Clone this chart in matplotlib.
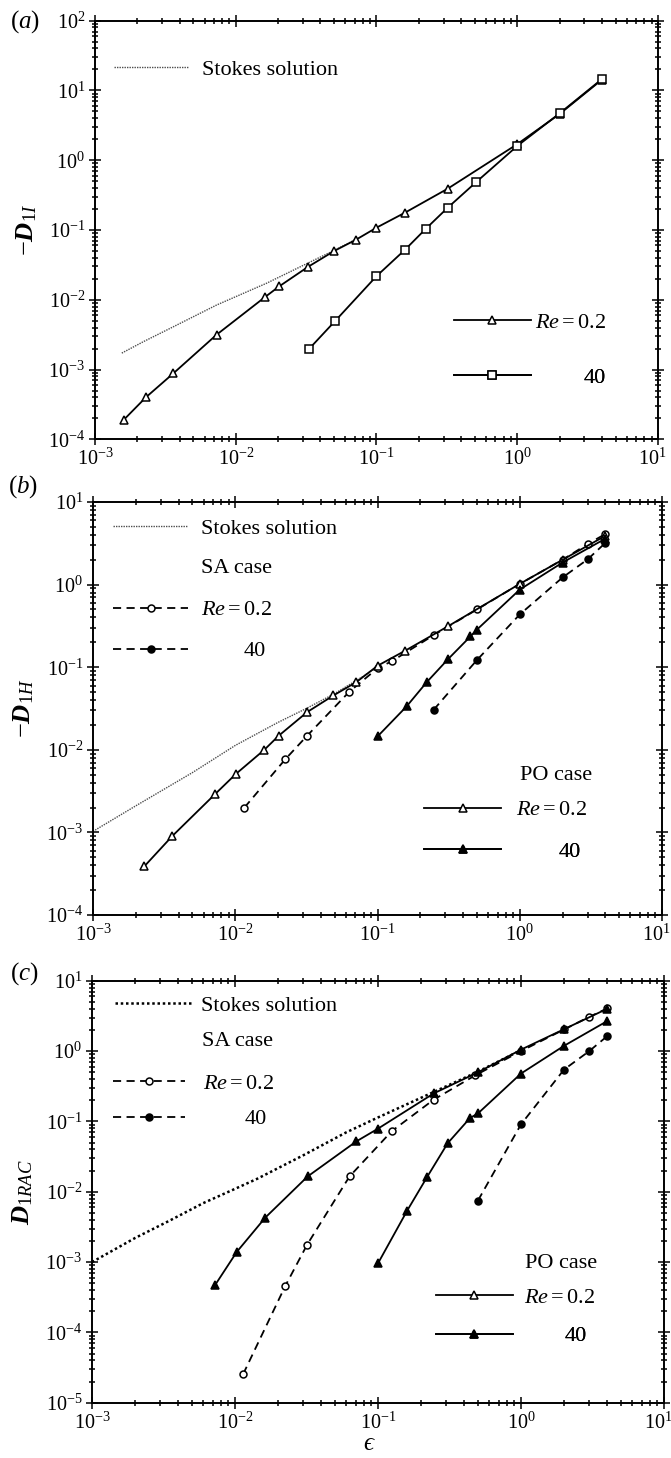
import numpy as np
import matplotlib
matplotlib.use("Agg")
import matplotlib.pyplot as plt
import matplotlib.transforms as mtransforms
from matplotlib.lines import Line2D
from matplotlib.ticker import LogLocator, NullFormatter

plt.rcParams['font.family'] = 'Liberation Serif'
plt.rcParams['mathtext.fontset'] = 'custom'
plt.rcParams['mathtext.rm'] = 'Liberation Serif'
plt.rcParams['mathtext.it'] = 'Liberation Serif:italic'
plt.rcParams['mathtext.bf'] = 'Liberation Serif:bold'
plt.rcParams['mathtext.bfit'] = 'Liberation Serif:bold:italic'

# (a) -D_1I
eps_a_stokes = [0.00155, 0.0022, 0.0036, 0.0073, 0.0166, 0.032, 0.05, 0.07]
d1i_stokes = [1.72e-3, 2.5e-3, 4.1e-3, 8.4e-3, 0.0173, 0.0330, 0.051, 0.072]
eps_a_re02 = [0.0016, 0.0023, 0.0036, 0.0073, 0.0162, 0.0203, 0.0325, 0.05, 0.071, 0.1, 0.16, 0.32, 1.0, 2.0, 4.0]
d1i_re02 = [1.9e-4, 4.0e-4, 8.8e-4, 3.15e-3, 0.011, 0.0155, 0.0295, 0.050, 0.072, 0.108, 0.178, 0.39, 1.7, 4.6, 14.3]
eps_a_re40 = [0.033, 0.051, 0.1, 0.16, 0.225, 0.32, 0.51, 1.0, 2.0, 4.0]
d1i_re40 = [1.95e-3, 5.0e-3, 0.0218, 0.0525, 0.105, 0.208, 0.485, 1.6, 4.7, 14.6]

# (b) -D_1H
eps_b_stokes = [0.001, 0.002, 0.005, 0.01, 0.02, 0.032, 0.05, 0.07, 0.1]
d1h_stokes = [1.03e-3, 2.1e-3, 5.3e-3, 0.0113, 0.0215, 0.032, 0.048, 0.068, 0.1]
eps_b_po02 = [0.0023, 0.0036, 0.0072, 0.0101, 0.016, 0.0202, 0.032, 0.049, 0.071, 0.1, 0.157, 0.315, 1.0, 2.0, 4.0]
d1h_po02 = [3.9e-4, 9.0e-4, 2.9e-3, 5.1e-3, 0.010, 0.0148, 0.0286, 0.0455, 0.066, 0.104, 0.159, 0.315, 1.02, 2.0, 3.9]
eps_b_sa02 = [0.0116, 0.0225, 0.032, 0.063, 0.1, 0.127, 0.248, 0.5, 1.0, 2.0, 3.0, 4.0]
d1h_sa02 = [2.0e-3, 7.7e-3, 0.0148, 0.050, 0.097, 0.119, 0.244, 0.50, 1.02, 2.0, 3.1, 4.1]
eps_b_sa40 = [0.248, 0.5, 1.0, 2.0, 3.0, 4.0]
d1h_sa40 = [0.0305, 0.122, 0.435, 1.22, 2.02, 3.2]
eps_b_po40 = [0.1, 0.16, 0.222, 0.313, 0.45, 0.5, 1.0, 2.0, 4.0]
d1h_po40 = [0.0145, 0.0335, 0.066, 0.125, 0.236, 0.285, 0.87, 1.85, 3.6]

# (c) D_1RAC
eps_c_stokes = [0.001, 0.002, 0.0035, 0.006, 0.01, 0.0143, 0.03, 0.06, 0.1, 0.245, 0.49, 1.0]
d1rac_stokes = [1.0e-3, 2.2e-3, 3.9e-3, 6.9e-3, 0.011, 0.0153, 0.033, 0.070, 0.114, 0.262, 0.50, 1.03]
eps_c_po02 = [0.0073, 0.0103, 0.0163, 0.0322, 0.0705, 0.1, 0.245, 0.5, 1.0, 2.0, 4.0]
d1rac_po02 = [4.8e-4, 1.4e-3, 4.3e-3, 0.0165, 0.052, 0.079, 0.25, 0.50, 1.05, 2.05, 4.0]
eps_c_sa02 = [0.0114, 0.0225, 0.0319, 0.0632, 0.125, 0.245, 0.48, 1.0, 2.0, 3.0, 4.0]
d1rac_sa02 = [2.55e-5, 4.6e-4, 1.76e-3, 0.0165, 0.073, 0.204, 0.454, 1.0, 2.03, 3.07, 4.04]
eps_c_po40 = [0.1, 0.16, 0.22, 0.307, 0.44, 0.5, 1.0, 2.0, 4.0]
d1rac_po40 = [9.6e-4, 5.4e-3, 0.0161, 0.049, 0.112, 0.13, 0.48, 1.19, 2.67]
eps_c_sa40 = [0.5, 1.0, 2.0, 3.0, 4.0]
d1rac_sa40 = [7.5e-3, 0.091, 0.547, 1.0, 1.63]

DASH = (0, (4.5, 3))
LW = 1.3
FS = 16


def setup(ax, ylo, yhi):
    ax.set_xscale('log')
    ax.set_yscale('log')
    ax.set_xlim(1e-3, 1e1)
    ax.set_ylim(ylo, yhi)
    for axis in (ax.xaxis, ax.yaxis):
        axis.set_major_locator(LogLocator(base=10, numticks=20))
        axis.set_minor_locator(LogLocator(base=10, subs=np.arange(2, 10), numticks=40))
        axis.set_minor_formatter(NullFormatter())
    ax.tick_params(which='both', direction='inout', top=True, right=True,
                   labelsize=14.5, width=1.1)
    ax.tick_params(which='major', length=8, pad=3)
    ax.tick_params(which='minor', length=5)
    for s in ax.spines.values():
        s.set_linewidth(1.4)


def key(ax, handle, text, x, y, hlen=3.4, pad=0.6):
    leg = ax.legend([handle], [text], loc='center left', bbox_to_anchor=(x, y),
                    bbox_transform=ax.transAxes, frameon=False, borderpad=0,
                    borderaxespad=0, handlelength=hlen, handletextpad=pad,
                    fontsize=FS, numpoints=1)
    ax.add_artist(leg)


def series(ax, x, y, ls, marker, filled, ms=6):
    style = dict(color='k', lw=LW, ls=ls, marker=marker, ms=ms,
                 mfc='k' if filled else 'white', mec='k', mew=1.1)
    ax.plot(x, y, **style)
    return Line2D([], [], **style)


def nudge_last_xlabel(ax):
    # keep the 10^1 label inside the figure edge
    labels = ax.get_xticklabels()
    shift = mtransforms.ScaledTranslation(-6 / 100, 0, ax.figure.dpi_scale_trans)
    for lab in labels:
        if abs(lab.get_position()[0] - 10) < 1e-6:
            lab.set_transform(lab.get_transform() + shift)


fig = plt.figure(figsize=(6.71, 14.58), dpi=100)
ax_a = fig.add_axes([0.1416, 0.6987, 0.839, 0.2871])
ax_b = fig.add_axes([0.1386, 0.3724, 0.848, 0.2833])
ax_c = fig.add_axes([0.1371, 0.0379, 0.8525, 0.2894])

# panel (a)
ax = ax_a
setup(ax, 1e-4, 1e2)
ax.plot(eps_a_stokes, d1i_stokes, color='0.3', lw=1.0, ls=(0, (1, 0.8)))
h02 = series(ax, eps_a_re02, d1i_re02, '-', '^', False)
h40 = series(ax, eps_a_re40, d1i_re40, '-', 's', False)
hst = Line2D([], [], color='0.3', lw=1.0, ls=(0, (1, 0.8)))
key(ax, hst, 'Stokes solution', 0.033, 0.883, 3.4, 0.58)
key(ax, h02, r'$Re=0.2$', 0.637, 0.279, 3.47, 0.18)
key(ax, h40, '40', 0.637, 0.147, 3.47, 0.18 + 49 / 22.2)
ax.set_ylabel(r'$-\mathbfit{D}_{1I}$', fontsize=19)
ax.yaxis.set_label_coords(-0.1, 0.5)

# panel (b)
ax = ax_b
setup(ax, 1e-4, 1e1)
ax.plot(eps_b_stokes, d1h_stokes, color='0.3', lw=1.0, ls=(0, (1, 0.8)))
hsa02 = series(ax, eps_b_sa02, d1h_sa02, DASH, 'o', False, 5)
hsa40 = series(ax, eps_b_sa40, d1h_sa40, DASH, 'o', True, 5)
hpo02 = series(ax, eps_b_po02, d1h_po02, '-', '^', False)
hpo40 = series(ax, eps_b_po40, d1h_po40, '-', '^', True)
key(ax, hst, 'Stokes solution', 0.035, 0.935, 3.4, 0.58)
ax.text(0.190, 0.840, 'SA case', transform=ax.transAxes, fontsize=FS, va='center')
key(ax, hsa02, r'$Re=0.2$', 0.035, 0.738, 3.4, 0.58)
key(ax, hsa40, '40', 0.035, 0.639, 3.4, 0.58 + 42 / 22.2)
ax.text(0.750, 0.339, 'PO case', transform=ax.transAxes, fontsize=FS, va='center')
key(ax, hpo02, r'$Re=0.2$', 0.582, 0.254, 3.47, 0.68)
key(ax, hpo40, '40', 0.582, 0.153, 3.47, 0.68 + 42 / 22.2)
ax.set_ylabel(r'$-\mathbfit{D}_{1H}$', fontsize=19)
ax.yaxis.set_label_coords(-0.1, 0.5)

# panel (c)
ax = ax_c
setup(ax, 1e-5, 1e1)
st_c = dict(color='k', lw=1.8, ls=(0, (1, 1.1)))
ax.plot(eps_c_stokes, d1rac_stokes, **st_c)
hsa02 = series(ax, eps_c_sa02, d1rac_sa02, DASH, 'o', False, 5)
hsa40 = series(ax, eps_c_sa40, d1rac_sa40, DASH, 'o', True, 5)
series(ax, eps_c_po02, d1rac_po02, '-', '^', True)
series(ax, eps_c_po40, d1rac_po40, '-', '^', True)
key(ax, Line2D([], [], **st_c), 'Stokes solution', 0.040, 0.942, 3.5, 0.38)
ax.text(0.192, 0.855, 'SA case', transform=ax.transAxes, fontsize=FS, va='center')
key(ax, hsa02, r'$Re=0.2$', 0.036, 0.757, 3.25, 0.8)
key(ax, hsa40, '40', 0.036, 0.672, 3.25, 0.8 + 42 / 22.2)
ax.text(0.757, 0.331, 'PO case', transform=ax.transAxes, fontsize=FS, va='center')
hpo02 = Line2D([], [], color='k', lw=LW, marker='^', ms=6, mfc='white', mec='k', mew=1.1)
hpo40 = Line2D([], [], color='k', lw=LW, marker='^', ms=6, mfc='k', mec='k', mew=1.1)
key(ax, hpo02, r'$Re=0.2$', 0.601, 0.250, 3.47, 0.5)
key(ax, hpo40, '40', 0.601, 0.158, 3.47, 0.5 + 41 / 22.2)
ax.set_ylabel(r'$\mathbfit{D}_{1RAC}$', fontsize=19)
ax.yaxis.set_label_coords(-0.1, 0.5)
ax.set_xlabel('\u03f5', fontsize=18, family=['Liberation Serif', 'DejaVu Serif'], style='italic')
ax.xaxis.set_label_coords(0.483, -0.071)

fig.canvas.draw()
for ax in (ax_a, ax_b, ax_c):
    nudge_last_xlabel(ax)

fig.text(10 / 671, 1 - 22 / 1458, r'$(a)$', fontsize=18, va='center')
fig.text(8 / 671, 1 - 487 / 1458, r'$(b)$', fontsize=18, va='center')
fig.text(10 / 671, 1 - 974 / 1458, r'$(c)$', fontsize=18, va='center')

fig.savefig('out.png', dpi=100)
